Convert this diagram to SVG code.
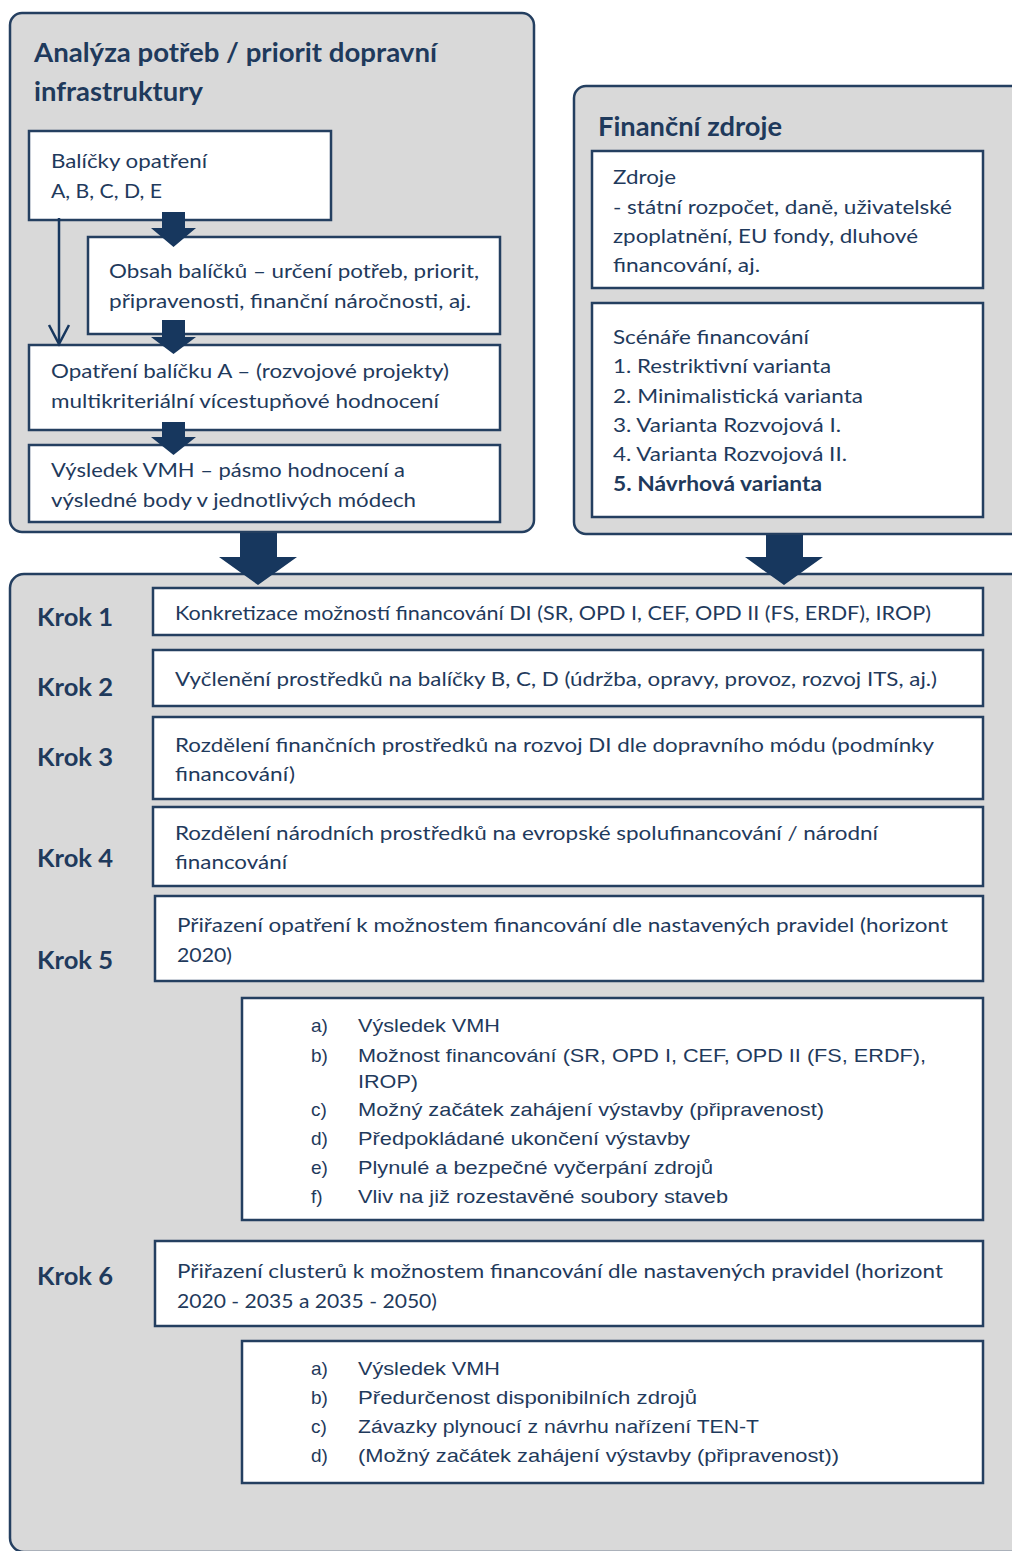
<svg xmlns="http://www.w3.org/2000/svg" width="1012" height="1551" viewBox="0 0 1012 1551">
<style>
.outer{fill:#d9d9d9;stroke:#243f60;stroke-width:2.5}
.box{fill:#ffffff;stroke:#243f60;stroke-width:2.5}
.t{font-family:Lato,"Open Sans","Liberation Sans",sans-serif;font-size:20px;fill:#1f3a5c}
.a{font-family:"Liberation Sans",Arial,sans-serif;font-size:19px;fill:#1f3a5c}
.h{font-family:Lato,"Open Sans","Liberation Sans",sans-serif;font-size:26px;font-weight:bold;fill:#1f3a5c}
.k{font-family:Lato,"Open Sans","Liberation Sans",sans-serif;font-size:25px;font-weight:bold;fill:#1f3a5c}
.b{font-weight:bold}
.blk{fill:#17375e}
.thin{fill:none;stroke:#17375e;stroke-width:2.5}
</style>
<rect width="1012" height="1551" fill="#ffffff"/>

<g id="analysis">
<rect class="outer" x="10" y="13" width="524" height="519" rx="12"/>
<text class="h" x="34" y="62" textLength="403" lengthAdjust="spacingAndGlyphs">Analýza potřeb / priorit dopravní</text>
<text class="h" x="34" y="101" textLength="169" lengthAdjust="spacingAndGlyphs">infrastruktury</text>
</g>
<g id="balicky">
<rect class="box" x="29" y="131" width="302" height="89"/>
<text class="t" x="51" y="168" textLength="156" lengthAdjust="spacingAndGlyphs">Balíčky opatření</text>
<text class="t" x="51" y="198" textLength="111" lengthAdjust="spacingAndGlyphs">A, B, C, D, E</text>
</g>
<g id="obsah">
<rect class="box" x="88" y="237" width="412" height="97"/>
<text class="t" x="109" y="278" textLength="370" lengthAdjust="spacingAndGlyphs">Obsah balíčků – určení potřeb, priorit,</text>
<text class="t" x="109" y="308" textLength="362" lengthAdjust="spacingAndGlyphs">připravenosti, finanční náročnosti, aj.</text>
</g>
<g id="opatreni">
<rect class="box" x="29" y="345" width="471" height="85"/>
<text class="t" x="51" y="378" textLength="398" lengthAdjust="spacingAndGlyphs">Opatření balíčku A – (rozvojové projekty)</text>
<text class="t" x="51" y="408" textLength="388" lengthAdjust="spacingAndGlyphs">multikriteriální vícestupňové hodnocení</text>
</g>
<g id="vysledek">
<rect class="box" x="29" y="445" width="471" height="77"/>
<text class="t" x="51" y="477" textLength="354" lengthAdjust="spacingAndGlyphs">Výsledek VMH – pásmo hodnocení a</text>
<text class="t" x="51" y="507" textLength="365" lengthAdjust="spacingAndGlyphs">výsledné body v jednotlivých módech</text>
</g>

<g id="financni">
<rect class="outer" x="574" y="86" width="470" height="448" rx="12"/>
<text class="h" x="598" y="136" textLength="184" lengthAdjust="spacingAndGlyphs">Finanční zdroje</text>
</g>
<g id="zdroje">
<rect class="box" x="592" y="151" width="391" height="137"/>
<text class="t" x="613" y="184" textLength="63" lengthAdjust="spacingAndGlyphs">Zdroje</text>
<text class="t" x="613" y="214" textLength="339" lengthAdjust="spacingAndGlyphs">- státní rozpočet, daně, uživatelské</text>
<text class="t" x="613" y="243" textLength="305" lengthAdjust="spacingAndGlyphs">zpoplatnění, EU fondy, dluhové</text>
<text class="t" x="613" y="272" textLength="147" lengthAdjust="spacingAndGlyphs">financování, aj.</text>
</g>
<g id="scenare">
<rect class="box" x="592" y="303" width="391" height="214"/>
<text class="t" x="613" y="344" textLength="196" lengthAdjust="spacingAndGlyphs">Scénáře financování</text>
<text class="t" x="613" y="373" textLength="218" lengthAdjust="spacingAndGlyphs">1. Restriktivní varianta</text>
<text class="t" x="613" y="403" textLength="250" lengthAdjust="spacingAndGlyphs">2. Minimalistická varianta</text>
<text class="t" x="613" y="432" textLength="228" lengthAdjust="spacingAndGlyphs">3. Varianta Rozvojová I.</text>
<text class="t" x="613" y="461" textLength="234" lengthAdjust="spacingAndGlyphs">4. Varianta Rozvojová II.</text>
<text class="t b" x="613" y="491" textLength="209" lengthAdjust="spacingAndGlyphs">5. Návrhová varianta</text>
</g>

<g id="kroky">
<rect class="outer" x="10" y="574" width="1040" height="978" rx="14"/>
<text class="k" x="37" y="626" textLength="76" lengthAdjust="spacingAndGlyphs">Krok 1</text>
<text class="k" x="37" y="696" textLength="76" lengthAdjust="spacingAndGlyphs">Krok 2</text>
<text class="k" x="37" y="766" textLength="76" lengthAdjust="spacingAndGlyphs">Krok 3</text>
<text class="k" x="37" y="867" textLength="76" lengthAdjust="spacingAndGlyphs">Krok 4</text>
<text class="k" x="37" y="969" textLength="76" lengthAdjust="spacingAndGlyphs">Krok 5</text>
<text class="k" x="37" y="1285" textLength="76" lengthAdjust="spacingAndGlyphs">Krok 6</text>
</g>
<g id="krok1">
<rect class="box" x="153" y="588" width="830" height="47"/>
<text class="t" x="175" y="620" textLength="756" lengthAdjust="spacingAndGlyphs">Konkretizace možností financování DI (SR, OPD I, CEF, OPD II (FS, ERDF), IROP)</text>
</g>
<g id="krok2">
<rect class="box" x="153" y="650" width="830" height="56"/>
<text class="t" x="175" y="686" textLength="762" lengthAdjust="spacingAndGlyphs">Vyčlenění prostředků na balíčky B, C, D (údržba, opravy, provoz, rozvoj ITS, aj.)</text>
</g>
<g id="krok3">
<rect class="box" x="153" y="717" width="830" height="82"/>
<text class="t" x="175" y="752" textLength="759" lengthAdjust="spacingAndGlyphs">Rozdělení finančních prostředků na rozvoj DI dle dopravního módu (podmínky</text>
<text class="t" x="175" y="781" textLength="120" lengthAdjust="spacingAndGlyphs">financování)</text>
</g>
<g id="krok4">
<rect class="box" x="153" y="807" width="830" height="79"/>
<text class="t" x="175" y="840" textLength="703" lengthAdjust="spacingAndGlyphs">Rozdělení národních prostředků na evropské spolufinancování / národní</text>
<text class="t" x="175" y="869" textLength="112" lengthAdjust="spacingAndGlyphs">financování</text>
</g>
<g id="krok5">
<rect class="box" x="155" y="896" width="828" height="85"/>
<text class="t" x="177" y="932" textLength="771" lengthAdjust="spacingAndGlyphs">Přiřazení opatření k možnostem financování dle nastavených pravidel (horizont</text>
<text class="t" x="177" y="962" textLength="55" lengthAdjust="spacingAndGlyphs">2020)</text>
</g>
<g id="kriteria5">
<rect class="box" x="242" y="998" width="741" height="222"/>
<text class="a" x="311" y="1032">a)</text>
<text class="a" x="358" y="1032" textLength="142" lengthAdjust="spacingAndGlyphs">Výsledek VMH</text>
<text class="a" x="311" y="1062">b)</text>
<text class="a" x="358" y="1062" textLength="568" lengthAdjust="spacingAndGlyphs">Možnost financování (SR, OPD I, CEF, OPD II (FS, ERDF),</text>
<text class="a" x="358" y="1088" textLength="60" lengthAdjust="spacingAndGlyphs">IROP)</text>
<text class="a" x="311" y="1116">c)</text>
<text class="a" x="358" y="1116" textLength="466" lengthAdjust="spacingAndGlyphs">Možný začátek zahájení výstavby (připravenost)</text>
<text class="a" x="311" y="1145">d)</text>
<text class="a" x="358" y="1145" textLength="332" lengthAdjust="spacingAndGlyphs">Předpokládané ukončení výstavby</text>
<text class="a" x="311" y="1174">e)</text>
<text class="a" x="358" y="1174" textLength="355" lengthAdjust="spacingAndGlyphs">Plynulé a bezpečné vyčerpání zdrojů</text>
<text class="a" x="311" y="1203">f)</text>
<text class="a" x="358" y="1203" textLength="370" lengthAdjust="spacingAndGlyphs">Vliv na již rozestavěné soubory staveb</text>
</g>
<g id="krok6">
<rect class="box" x="155" y="1241" width="828" height="85"/>
<text class="t" x="177" y="1278" textLength="766" lengthAdjust="spacingAndGlyphs">Přiřazení clusterů k možnostem financování dle nastavených pravidel (horizont</text>
<text class="t" x="177" y="1308" textLength="260" lengthAdjust="spacingAndGlyphs">2020 - 2035 a 2035 - 2050)</text>
</g>
<g id="kriteria6">
<rect class="box" x="242" y="1341" width="741" height="142"/>
<text class="a" x="311" y="1375">a)</text>
<text class="a" x="358" y="1375" textLength="142" lengthAdjust="spacingAndGlyphs">Výsledek VMH</text>
<text class="a" x="311" y="1404">b)</text>
<text class="a" x="358" y="1404" textLength="339" lengthAdjust="spacingAndGlyphs">Předurčenost disponibilních zdrojů</text>
<text class="a" x="311" y="1433">c)</text>
<text class="a" x="358" y="1433" textLength="401" lengthAdjust="spacingAndGlyphs">Závazky plynoucí z návrhu nařízení TEN-T</text>
<text class="a" x="311" y="1462">d)</text>
<text class="a" x="358" y="1462" textLength="481" lengthAdjust="spacingAndGlyphs">(Možný začátek zahájení výstavby (připravenost))</text>
</g>

<g id="connectors">
<polygon class="blk" points="162,212 185,212 185,228 196,228 173.5,247 151,228 162,228"/>
<polygon class="blk" points="162,320 185,320 185,337 196,337 173.5,354 151,337 162,337"/>
<polygon class="blk" points="162,422 185,422 185,437 196,437 173.5,455 151,437 162,437"/>
<line class="thin" x1="59" y1="218" x2="59" y2="343"/>
<polyline class="thin" points="49,325 59,344 69,325"/>
<polygon class="blk" points="240,533 277,533 277,557 297,557 258,585 219,557 240,557"/>
<polygon class="blk" points="766,535 803,535 803,557 823,557 784,585 745,557 766,557"/>
</g>
</svg>
